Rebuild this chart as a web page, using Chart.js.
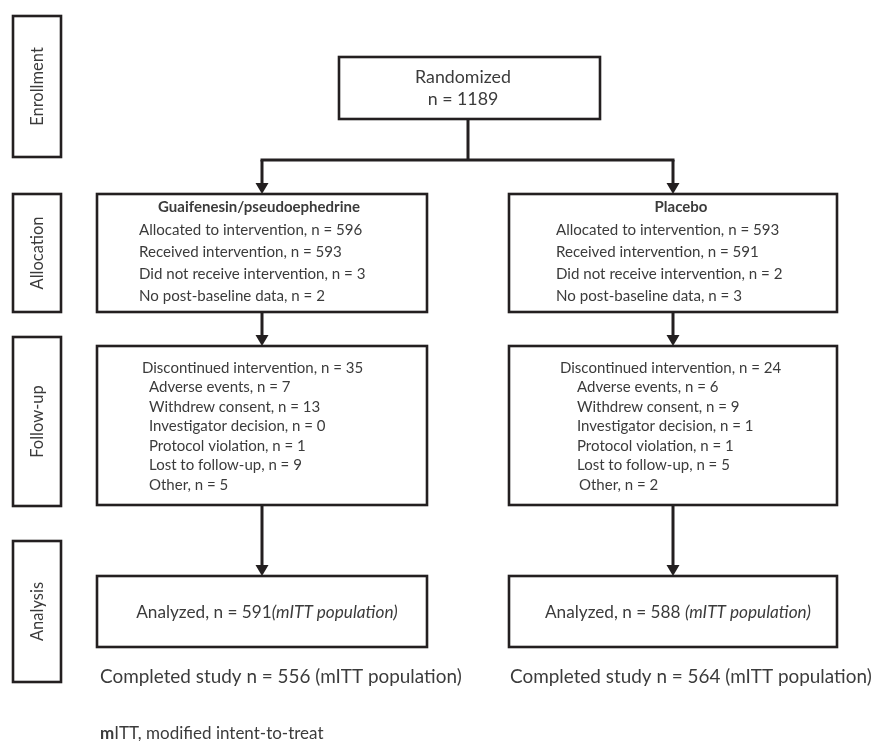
<!DOCTYPE html>
<html>
<head>
<meta charset="utf-8">
<title>CONSORT flow</title>
<script src="https://cdn.jsdelivr.net/npm/chart.js@4/dist/chart.umd.min.js"></script>
<style>
    html, body { margin: 0; padding: 0; background: #fff; }
    #flow { display: block; }
</style>
</head>
<body>
<canvas id="flow" width="875" height="741"></canvas>
<script>
// Flow diagram data
const STAGES = ['Enrollment', 'Allocation', 'Follow-up', 'Analysis'];
const ARMS = ['Guaifenesin/pseudoephedrine', 'Placebo'];
const RANDOMIZED_N = 1189;

const ALLOC_LABELS = ['Allocated to intervention', 'Received intervention', 'Did not receive intervention', 'No post-baseline data'];
const ALLOC_N = [
    [596, 593, 3, 2],   // guaifenesin/pseudoephedrine
    [593, 591, 2, 3]    // placebo
];

const DISC_LABELS = ['Discontinued intervention', 'Adverse events', 'Withdrew consent', 'Investigator decision', 'Protocol violation', 'Lost to follow-up', 'Other'];
const DISC_N = [
    [35, 7, 13, 0, 1, 9, 5],
    [24, 6, 9, 1, 1, 5, 2]
];

const ANALYZED_N = [591, 588];
const COMPLETED_N = [556, 564];
const FOOTNOTE = ['m', 'ITT, modified intent-to-treat'];

// Layout, in page units (scale coordinates)
const LAYOUT = {
    stageX: [13, 61],
    stageY: [[16, 157], [194, 312], [337, 506], [541, 682]],
    randomBox: [339, 57, 600, 119],
    stemX: 468,
    splitY: 160,
    armX: [[97, 427], [509, 837]],
    allocY: [194, 312],
    followY: [346, 505],
    analysisY: [576, 647],
    allocText: { titleY: 207, firstY: 230, step: 22.2, left: [139, 556] },
    followText: { firstY: 368, step: 19.5, left: [142, 560], indent: [7, 17] },
    analyzedY: 612,
    completedY: 677,
    completedLeft: [100, 510],
    footY: 734,
    footLeft: 100
};

const FONT = 'Lato, "Open Sans", sans-serif';
const INK = '#231f20';
const TEXT = '#3b3b3b';

const flowPlugin = {
    id: 'flow',
    afterDraw(chart) {
        const { ctx, scales: { x, y } } = chart;
        const px = v => x.getPixelForValue(v);
        const py = v => y.getPixelForValue(v);

        const rect = (x0, y0, x1, y1) => {
            ctx.strokeRect(px(x0), py(y0), px(x1) - px(x0), py(y1) - py(y0));
        };
        const line = (x0, y0, x1, y1) => {
            ctx.beginPath();
            ctx.moveTo(px(x0), py(y0));
            ctx.lineTo(px(x1), py(y1));
            ctx.stroke();
        };
        const arrow = (ax, y0, y1) => {
            line(ax, y0, ax, y1 - 8);
            ctx.beginPath();
            ctx.moveTo(px(ax - 6.5), py(y1 - 11));
            ctx.lineTo(px(ax + 6.5), py(y1 - 11));
            ctx.lineTo(px(ax), py(y1));
            ctx.closePath();
            ctx.fill();
        };
        const text = (str, tx, ty, font, align) => {
            ctx.font = font;
            ctx.textAlign = align || 'left';
            ctx.fillText(str, px(tx), py(ty));
        };

        ctx.save();
        ctx.strokeStyle = INK;
        ctx.fillStyle = INK;
        ctx.lineWidth = 2.6;
        ctx.lineJoin = 'miter';
        ctx.textBaseline = 'middle';

        // stage boxes on the left
        STAGES.forEach((s, i) => {
            const [y0, y1] = LAYOUT.stageY[i];
            ctx.strokeStyle = INK;
            rect(LAYOUT.stageX[0], y0, LAYOUT.stageX[1], y1);
            ctx.save();
            ctx.translate(px((LAYOUT.stageX[0] + LAYOUT.stageX[1]) / 2 + 1), py((y0 + y1) / 2));
            ctx.rotate(-Math.PI / 2);
            ctx.fillStyle = TEXT;
            ctx.font = '16.5px ' + FONT;
            ctx.textAlign = 'center';
            ctx.fillText(s, 0, 0);
            ctx.restore();
        });

        // randomized box
        const rb = LAYOUT.randomBox;
        rect(rb[0], rb[1], rb[2], rb[3]);
        ctx.fillStyle = TEXT;
        text('Randomized', 463, 77, '17.8px ' + FONT, 'center');
        text('n = ' + RANDOMIZED_N, 463, 99, '17.8px ' + FONT, 'center');
        ctx.fillStyle = INK;

        // connectors
        ctx.lineWidth = 3;
        const centers = LAYOUT.armX.map(a => (a[0] + a[1]) / 2);
        line(LAYOUT.stemX, rb[3], LAYOUT.stemX, LAYOUT.splitY);
        line(centers[0] - 1.5, LAYOUT.splitY, centers[1] + 1.5, LAYOUT.splitY);
        centers.forEach(cx => {
            arrow(cx, LAYOUT.splitY, LAYOUT.allocY[0]);
            arrow(cx, LAYOUT.allocY[1], LAYOUT.followY[0]);
            line(cx, LAYOUT.followY[1], cx, LAYOUT.analysisY[0] - 8);
            arrow(cx, LAYOUT.analysisY[0] - 10, LAYOUT.analysisY[0]);
        });

        ctx.lineWidth = 2.6;
        ARMS.forEach((arm, i) => {
            const [x0, x1] = LAYOUT.armX[i];
            const cx = centers[i];
            rect(x0, LAYOUT.allocY[0], x1, LAYOUT.allocY[1]);
            rect(x0, LAYOUT.followY[0], x1, LAYOUT.followY[1]);
            rect(x0, LAYOUT.analysisY[0], x1, LAYOUT.analysisY[1]);

            ctx.fillStyle = TEXT;
            // allocation
            const at = LAYOUT.allocText;
            text(arm, cx - 3 + (i ? 11 : 0), at.titleY, 'bold 15px ' + FONT, 'center');
            ALLOC_LABELS.forEach((lab, j) => {
                text(lab + ', n = ' + ALLOC_N[i][j], at.left[i], at.firstY + j * at.step, '15.1px ' + FONT);
            });

            // follow-up
            const ft = LAYOUT.followText;
            DISC_LABELS.forEach((lab, j) => {
                let lx = ft.left[i] + (j ? ft.indent[i] : 0);
                if (i === 1 && j === DISC_LABELS.length - 1) lx += 2;
                text(lab + ', n = ' + DISC_N[i][j], lx, ft.firstY + j * ft.step, '15px ' + FONT);
            });

            // analysis
            const a1 = 'Analyzed, n = ' + ANALYZED_N[i] + (i ? ' ' : '');
            const a2 = '(mITT population)';
            ctx.font = '17.2px ' + FONT;
            const w1 = ctx.measureText(a1).width;
            ctx.font = 'italic 17.2px ' + FONT;
            const w2 = ctx.measureText(a2).width;
            const sx = px(cx + 5) - (w1 + w2) / 2;
            ctx.textAlign = 'left';
            ctx.font = '17.2px ' + FONT;
            ctx.fillText(a1, sx, py(LAYOUT.analyzedY));
            ctx.font = 'italic 17.2px ' + FONT;
            ctx.fillText(a2, sx + w1, py(LAYOUT.analyzedY));

            text('Completed study n = ' + COMPLETED_N[i] + ' (mITT population)',
                LAYOUT.completedLeft[i], LAYOUT.completedY, '18.9px ' + FONT);
        });

        // footnote
        ctx.font = 'bold 17px ' + FONT;
        ctx.textAlign = 'left';
        const mw = ctx.measureText(FOOTNOTE[0]).width;
        ctx.fillText(FOOTNOTE[0], px(LAYOUT.footLeft), py(LAYOUT.footY));
        ctx.font = '17px ' + FONT;
        ctx.fillText(FOOTNOTE[1], px(LAYOUT.footLeft) + mw, py(LAYOUT.footY));

        ctx.restore();
    }
};

new Chart(document.getElementById('flow'), {
    type: 'scatter',
    data: { datasets: [{ data: [], pointRadius: 0 }] },
    options: {
        responsive: false,
        animation: false,
        layout: { padding: 0 },
        plugins: { legend: { display: false }, tooltip: { enabled: false } },
        scales: {
            x: { type: 'linear', min: 0, max: 875, display: false },
            y: { type: 'linear', min: 0, max: 741, reverse: true, display: false }
        }
    },
    plugins: [flowPlugin]
});
</script>
</body>
</html>
